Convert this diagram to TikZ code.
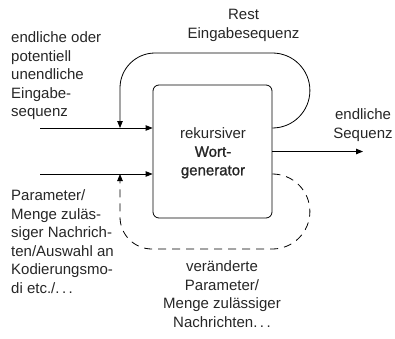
\documentclass[tikz,border=0pt]{standalone}
\usepackage{fontspec}
\setmainfont{Liberation Sans}
\newfontfamily\medfont[FakeBold=1.2]{Liberation Sans}
\usetikzlibrary{arrows.meta}
\begin{document}
\begin{tikzpicture}[x=1pt,y=1pt,
  every node/.style={inner sep=0pt,text=black!85,font=\fontsize{15}{18.5}\selectfont},
  lbl/.style={align=left,anchor=base west},
  clbl/.style={align=center,anchor=base},
  conn/.style={line width=0.8pt,-{Triangle[length=7pt,width=5.5pt]}},
  loopdash/.style={conn,dash pattern=on 8pt off 6pt}
]
\useasboundingbox (0,0) rectangle (395,338);
\node[draw=black,line width=0.8pt,rounded corners=6pt,minimum width=119pt,minimum height=133pt] (gen) at (212.5,186.5) {};
\node[clbl] (gentext) at (213,162.7) {rekursiver\\{\medfont Wort-}\\{\medfont generator}};
\coordinate (in1) at (40,210);
\coordinate (in2) at (40,164);
\coordinate (j1) at (120,210);
\coordinate (j2) at (120,164);
\coordinate (out) at (363,186.5);
\draw[conn] (in1) -- (gen.west |- in1);
\draw[conn] (in2) -- (gen.west |- in2);
\draw[conn] (gen.east) -- (out);
\draw[conn] (gen.east |- in1) arc[start angle=-90,end angle=90,radius=37.5] -- (155,285) arc[start angle=90,end angle=180,radius=35] -- (j1);
\draw[loopdash] (gen.east |- in2) arc[start angle=90,end angle=-90,radius=37.5] -- (152,89) arc[start angle=270,end angle=180,radius=32] -- (j2);
\node[lbl] (inlbl) at (11,221.3) {endliche oder\\potentiell\\unendliche\\Eingabe-\\sequenz};
\node[lbl] (parlbl) at (11,44.7) {Parameter/\\Menge zuläs-\\siger Nachrich-\\ten/Auswahl an\\Kodierungsmo-\\di etc./.\,.\,.};
\node[clbl] (restlbl) at (243.5,299.7) {Rest\\Eingabesequenz};
\node[clbl] (outlbl) at (363,199.7) {endliche\\Sequenz};
\node[clbl] (chglbl) at (222,10.8) {veränderte\\Parameter/\\Menge zulässiger\\Nachrichten.\,.\,.};
\end{tikzpicture}
\end{document}
